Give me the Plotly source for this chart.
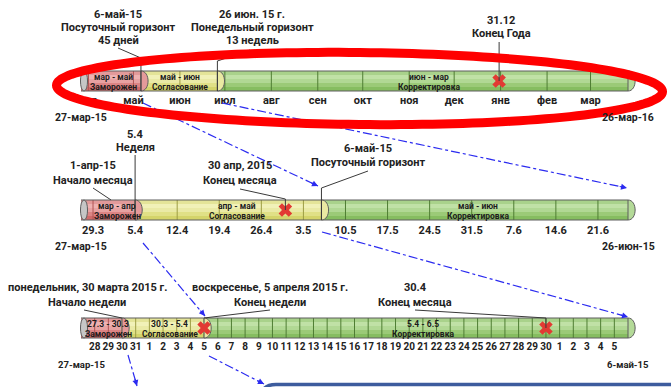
import math
import pandas as pd
import plotly.graph_objects as go

W_PX, H_PX = 671, 387
BAR_X0, BAR_W, BAR_H = 81, 547, 20
FONT = "Roboto"
INK = "#222222"
BLUE = "#2b2bf0"

# ---- timelines: year / quarter / month horizons --------------------------
tl_start = ["2015-03-27", "2015-03-27", "2015-03-27"]
tl_end = ["2016-03-26", "2015-06-26", "2015-05-06"]
tl_start_label = ["27-мар-15", "27-мар-15", "27-мар-15"]
tl_end_label = ["26-мар-16", "26-июн-15", "6-май-15"]
bar_top = [71, 200, 318]

# phase boundaries (frozen / agreement / correction)
phase_bounds = [
    ["2015-03-27", "2015-05-06", "2015-06-26", "2016-03-26"],
    ["2015-03-27", "2015-04-05", "2015-05-06", "2015-06-26"],
    ["2015-03-27", "2015-03-30", "2015-04-05", "2015-05-06"],
]
phase_periods = [
    ["мар - май", "май - июн", "июн - мар"],
    ["мар - апр", "апр - май", "май - июн"],
    ["27.3 - 30.3", "30.3 - 5.4", "5.4 - 6.5"],
]
phase_names = ["Заморожен", "Согласование", "Корректировка"]
phase_label_dates = [
    ["2015-04-18", "2015-06-01", "2015-11-14"],
    ["2015-04-02", "2015-04-22", "2015-06-01"],
    ["2015-03-29", "2015-04-02 12:00", "2015-04-21"],
]

# ---- tick marks ----------------------------------------------------------
month_ticks = ["2015-04-01", "2015-05-01", "2015-06-01", "2015-07-01",
               "2015-08-01", "2015-09-01", "2015-10-01", "2015-11-01",
               "2015-12-01", "2016-01-01", "2016-02-01", "2016-03-01"]
month_labels = ["апр", "май", "июн", "июл", "авг", "сен",
                "окт", "ноя", "дек", "янв", "фев", "мар"]
week_ticks = ["2015-03-29", "2015-04-05", "2015-04-12", "2015-04-19",
              "2015-04-26", "2015-05-03", "2015-05-10", "2015-05-17",
              "2015-05-24", "2015-05-31", "2015-06-07", "2015-06-14",
              "2015-06-21"]
week_labels = ["29.3", "5.4", "12.4", "19.4", "26.4", "3.5", "10.5",
               "17.5", "24.5", "31.5", "7.6", "14.6", "21.6"]
day_ticks = [d.strftime("%Y-%m-%d")
             for d in pd.date_range("2015-03-28", "2015-05-05", freq="D")]
day_labels = [str(pd.Timestamp(d).day) for d in day_ticks]
tick_dates = [month_ticks, week_ticks, day_ticks]
tick_labels = [month_labels, week_labels, day_labels]
tick_font = [11, 11, 10]

# ---- key dates marked with a cross ---------------------------------------
marker_dates = [["2015-12-31"], ["2015-04-30"], ["2015-04-05", "2015-04-30"]]

# ---- callouts ------------------------------------------------------------
callout_axis = [0, 0, 0, 1, 1, 1, 1, 2, 2, 2]
callout_date = ["2015-05-06", "2015-06-26", "2015-12-31",
                "2015-04-05", "2015-04-01", "2015-04-30", "2015-05-06",
                "2015-03-30", "2015-04-05", "2015-04-30"]
callout_lines = [
    ["6-май-15", "Посуточный горизонт", "45 дней"],
    ["26 июн. 15 г.", "Понедельный горизонт", "13 недель"],
    ["31.12", "Конец Года"],
    ["5.4", "Неделя"],
    ["1-апр-15", "Начало месяца"],
    ["30 апр, 2015", "Конец месяца"],
    ["6-май-15", "Посуточный горизонт"],
    ["понедельник, 30 марта 2015 г.", "Начало недели"],
    ["воскресенье, 5 апреля 2015 г.", "Конец недели"],
    ["30.4", "Конец месяца"],
]
# text centre x, first line y, line step, leader start, elbow y, leader end y
callout_text_x = [118, 252, 501, 135, 93, 240, 368, 87, 270, 415]
callout_text_y = [14, 14, 20, 134, 165, 165, 148, 287, 287, 287]
callout_step = [13, 13, 13, 13, 15, 15, 14, 15, 15, 15]
callout_from = [(118, 48), (250, 50), (None, 42), (None, 155), (93, 188),
                (240, 189), (368, 171), (84, 310), (270, 310), (415, 310)]
callout_elbow = [58, 61, None, None, None, 199, 188, None, None, 318]
callout_to = [91, 91, 81, 220, 200, 210, 220, 318, 318, 328]

# ---- connector arrows between horizons (pixel layout) ---------------------
connectors = [
    (143, 103, 318, 186),
    (222, 103, 627, 188),
    (143, 243, 205, 316),
    (322, 232, 628, 317),
    (128, 355, 137, 386),
    (209, 356, 264, 384),
]

# ---- colours ---------------------------------------------------------------
phase_stripes = [
    ["#e29a9a", "#eeb2b2", "#e7a2a2", "#dc8484", "#d06a6a"],
    ["#e4e498", "#f1f1b8", "#eaeaa6", "#e0e086", "#d4d46a"],
    ["#a9d28b", "#c0e1a6", "#b1d894", "#9bca77", "#86bd60"],
]
phase_cap = ["#e49a9a", "#e9e9a2", "#b4da98"]
phase_divider = ["#b05454", "#9d9d44", "#4f7d33"]
OUTLINE = "#5e5e5e"


def day(s, k):
    return (pd.Timestamp(s) - pd.Timestamp(tl_start[k])).total_seconds() / 86400.0


n_days = [day(tl_end[k], k) for k in range(3)]


def px(k, d):
    return BAR_X0 + d * BAR_W / n_days[k]


def xr(k):
    return "x" if k == 0 else f"x{k + 1}"


fig = go.Figure()
shapes, annos = [], []

for k in range(3):
    top = bar_top[k]
    bot = top + BAR_H
    ref = xr(k)
    b = [day(s, k) for s in phase_bounds[k]]
    # cylinder body, striped to give a shaded look
    for s in range(3):
        nst = len(phase_stripes[s])
        for i, c in enumerate(phase_stripes[s]):
            shapes.append(dict(type="rect", xref=ref, yref="y", layer="below",
                               x0=b[s], x1=b[s + 1],
                               y0=top + i * BAR_H / nst, y1=top + (i + 1) * BAR_H / nst,
                               fillcolor=c, line=dict(width=0)))
    # dividers at every tick
    for t in tick_dates[k]:
        d = day(t, k)
        s = max(i for i in range(3) if b[i] <= d)
        shapes.append(dict(type="line", xref=ref, yref="y", layer="below",
                           x0=d, x1=d, y0=top, y1=bot,
                           line=dict(color=phase_divider[s], width=1)))
    # top and bottom edges
    for yy in (top, bot):
        shapes.append(dict(type="line", xref=ref, yref="y", layer="below",
                           x0=0, x1=n_days[k], y0=yy, y1=yy,
                           line=dict(color=OUTLINE, width=1.2)))
    # rounded ends of each phase
    for s in range(3):
        shapes.append(dict(type="path", xref=ref, yref="y", layer="below",
                           xsizemode="pixel", xanchor=b[s + 1],
                           path=f"M0,{top} C9.5,{top} 9.5,{bot} 0,{bot} Z",
                           fillcolor=phase_cap[s],
                           line=dict(color=OUTLINE, width=1)))
    # visible left face of the cylinder
    shapes.append(dict(type="path", xref=ref, yref="y", layer="below",
                       xsizemode="pixel", xanchor=0,
                       path=(f"M3,{top} C-1.7,{top} -1.7,{bot} 3,{bot} "
                             f"C7.7,{bot} 7.7,{top} 3,{top} Z"),
                       fillcolor="#c6c6c6", line=dict(color=OUTLINE, width=1)))

    # phase captions inside the bar
    for s in range(3):
        xd = day(phase_label_dates[k][s], k)
        for j, txt in enumerate([phase_periods[k][s], phase_names[s]]):
            annos.append(dict(xref=ref, yref="y", x=xd, y=top + 5.5 + j * 10,
                              text=f"<b>{txt}</b>", showarrow=False, xanchor="center",
                              font=dict(family=FONT, size=8.5, color="#1c1c1c")))

    # start / end dates under the bar
    small = 10.5 if k < 2 else 9.5
    annos.append(dict(xref=ref, yref="y", x=0, y=bot + 26, text=f"<b>{tl_start_label[k]}</b>",
                      showarrow=False, xanchor="center",
                      font=dict(family=FONT, size=small, color=INK)))
    annos.append(dict(xref=ref, yref="y", x=n_days[k], y=bot + 26, text=f"<b>{tl_end_label[k]}</b>",
                      showarrow=False, xanchor="center",
                      font=dict(family=FONT, size=small, color=INK)))

    # crosses at key dates
    fig.add_trace(go.Scatter(
        x=[day(d, k) for d in marker_dates[k]], y=[top + BAR_H / 2] * len(marker_dates[k]),
        xaxis=ref, yaxis="y", mode="markers", hoverinfo="skip", showlegend=False,
        marker=dict(symbol="x", size=12, color="#e23a33", line=dict(width=0))))

# callouts with leader lines
for c in range(len(callout_lines)):
    k = callout_axis[c]
    xd = px(k, day(callout_date[c], k))
    for j, txt in enumerate(callout_lines[c]):
        annos.append(dict(xref="paper", yref="y", x=callout_text_x[c] / W_PX,
                          y=callout_text_y[c] + j * callout_step[c],
                          text=f"<b>{txt}</b>", showarrow=False,
                          xanchor="center", yanchor="middle",
                          font=dict(family=FONT, size=11, color=INK)))
    fx, fy = callout_from[c]
    if fx is None:
        fx = xd
    pts = [(fx, fy)]
    if callout_elbow[c] is not None:
        pts.append((xd, callout_elbow[c]))
    pts.append((xd, callout_to[c]))
    path = "M" + " L".join(f"{p[0] / W_PX:.5f},{p[1]}" for p in pts)
    shapes.append(dict(type="path", xref="paper", yref="y", layer="above",
                       path=path, line=dict(color="#3a3a3a", width=1)))

# dash-dot connectors with arrowheads
for (x0, y0, x1, y1) in connectors:
    shapes.append(dict(type="line", xref="paper", yref="y", layer="above",
                       x0=x0 / W_PX, y0=y0, x1=x1 / W_PX, y1=y1,
                       line=dict(color=BLUE, width=1.2, dash="dashdot")))
    L = math.hypot(x1 - x0, y1 - y0)
    annos.append(dict(xref="paper", yref="y", x=x1 / W_PX, y=y1, text="",
                      showarrow=True, axref="pixel", ayref="pixel",
                      ax=-(x1 - x0) / L * 9, ay=-(y1 - y0) / L * 9,
                      arrowhead=2, arrowsize=1, arrowwidth=1.2,
                      arrowcolor=BLUE, standoff=0))

# edge of the next panel below
shapes.append(dict(type="path", xref="paper", yref="y", layer="above",
                   path=f"M{262 / W_PX},392 Q{265 / W_PX},384.5 {276 / W_PX},384.5 L1.02,384.5",
                   line=dict(color="#3d5c9e", width=3.5)))

# red ring around the yearly horizon
cx, cy, rx, ry, ang = 359.5, 88.5, 303, 36, math.radians(0.6)
ring = []
for i in range(181):
    t = 2 * math.pi * i / 180
    ex, ey = rx * math.cos(t), ry * math.sin(t)
    xx = cx + ex * math.cos(ang) - ey * math.sin(ang)
    yy = cy + ex * math.sin(ang) + ey * math.cos(ang)
    ring.append(f"{xx / W_PX:.5f},{yy:.2f}")
shapes.append(dict(type="path", xref="paper", yref="y", layer="above",
                   path="M" + " L".join(ring) + " Z",
                   line=dict(color="#ff0000", width=9)))

layout_axes = {}
axis_px = [92, 222, 339]
for k in range(3):
    ppd = BAR_W / n_days[k]
    name = "xaxis" if k == 0 else f"xaxis{k + 1}"
    ax = dict(domain=[0, 1], range=[-BAR_X0 / ppd, (W_PX - BAR_X0) / ppd],
              showgrid=False, zeroline=False, showline=False, ticks="",
              tickvals=[day(t, k) for t in tick_dates[k]], ticktext=tick_labels[k],
              tickangle=0, tickfont=dict(family=FONT, size=tick_font[k], color=INK, weight="bold"),
              anchor="free", position=1 - axis_px[k] / H_PX, fixedrange=True)
    if k > 0:
        ax["overlaying"] = "x"
    layout_axes[name] = ax

fig.update_layout(
    width=W_PX, height=H_PX, margin=dict(l=0, r=0, t=0, b=0),
    paper_bgcolor="white", plot_bgcolor="white", showlegend=False,
    yaxis=dict(domain=[0, 1], range=[H_PX, 0], visible=False, fixedrange=True),
    shapes=shapes, annotations=annos, **layout_axes)

fig.write_html("out.html")
